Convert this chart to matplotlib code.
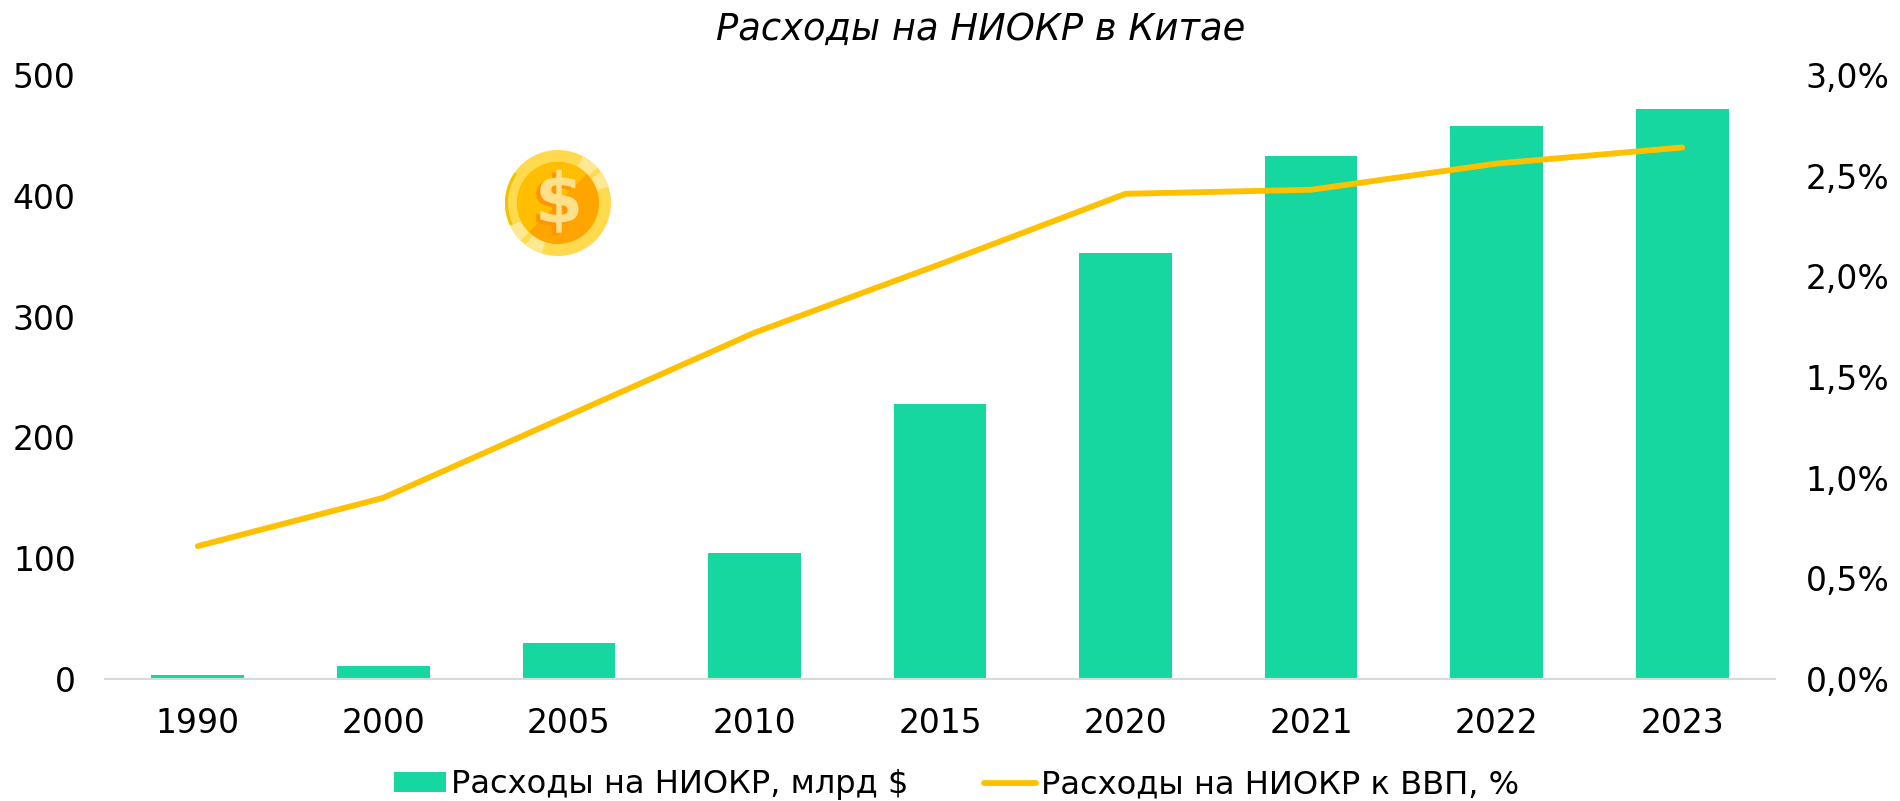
import matplotlib
matplotlib.use("Agg")
import matplotlib.pyplot as plt
import matplotlib.patheffects as pe
from matplotlib.patches import Circle, Wedge

years = ["1990", "2000", "2005", "2010", "2015", "2020", "2021", "2022", "2023"]
spend = [3, 11, 30, 104, 228, 353, 433, 458, 472]
share = [0.66, 0.90, 1.31, 1.72, 2.06, 2.41, 2.43, 2.56, 2.64]
left_ticks = [0, 100, 200, 300, 400, 500]
right_ticks = ["0,0%", "0,5%", "1,0%", "1,5%", "2,0%", "2,5%", "3,0%"]
title = "Расходы на НИОКР в Китае"
bar_label = "Расходы на НИОКР, млрд $"
line_label = "Расходы на НИОКР к ВВП, %"

plt.rcParams['font.family'] = ['DejaVu Sans']
W, H = 1900, 801
FS = 23.8
fig = plt.figure(figsize=(W/100, H/100), dpi=100)
l, r, t, b = 105, 1775, 75, 679
ax = fig.add_axes([l/W, 1-b/H, (r-l)/W, (b-t)/H])
x = list(range(len(years)))
ax.bar(x, spend, width=0.5, color="#16D79F", label=bar_label, zorder=2)
ax.set_xlim(-0.5, 8.5)
ax.set_ylim(0, 500)
ax.set_yticks(left_ticks)
ax.set_xticks(x, years)
ax.tick_params(axis='both', length=0, labelsize=FS, colors='black')
ax.tick_params(axis='x', pad=20)
ax.tick_params(axis='y', pad=21)
for s in ['top', 'left', 'right']:
    ax.spines[s].set_visible(False)
ax.spines['bottom'].set_color('#D9D9D9')
ax.spines['bottom'].set_linewidth(1.5)

ax2 = ax.twinx()
ax2.plot(x, share, color="#FFC000", lw=4.2, label=line_label, zorder=3, solid_capstyle='round')
ax2.set_ylim(0, 3)
ax2.set_yticks([i*0.5 for i in range(7)], right_ticks)
ax2.tick_params(axis='y', length=0, labelsize=FS, pad=22)
for s in ax2.spines.values():
    s.set_visible(False)

fig.text(0.5163, 1-29/H, title, ha='center', va='center', fontsize=26.6, style='italic')

# coin icon
ov = fig.add_axes([0, 0, 1, 1]); ov.set_xlim(0, W); ov.set_ylim(H, 0); ov.axis('off')
ov.patch.set_alpha(0)
cx, cy = 558, 203
ov.add_patch(Circle((cx, cy), 53, color="#FFDA4F", lw=0))
ov.add_patch(Wedge((cx, cy), 53, 155, 215, width=3, color="#F2C200", lw=0))
for a, c in [(298, 318), (324, 342), (108, 128), (135, 154)]:
    ov.add_patch(Wedge((cx, cy), 53, a, c, width=12, color="#FFE892", lw=0))
ov.add_patch(Circle((cx, cy), 41, color="#FFA400", lw=0))
ov.add_patch(Wedge((cx, cy), 41, 135, 315, color="#FFBF00", lw=0))
ov.text(cx+1, cy, "$", ha='center', va='center', fontsize=50, color="#FFE08A",
        fontweight='bold', family='Liberation Sans Narrow',
        path_effects=[pe.withSimplePatchShadow(offset=(-3, -2), shadow_rgbFace="#FF9500", alpha=1, rho=1)])
# legend
h1, _ = ax.get_legend_handles_labels()
h2, _ = ax2.get_legend_handles_labels()
fig.legend(h1+h2, [bar_label, line_label], loc='center', bbox_to_anchor=(0.5035, 1-785/H), ncol=2,
           frameon=False, fontsize=23.1, columnspacing=2.35, handlelength=1.62, handleheight=0.57,
           handletextpad=0.16, borderpad=0)
fig.savefig("out.png", dpi=100)
